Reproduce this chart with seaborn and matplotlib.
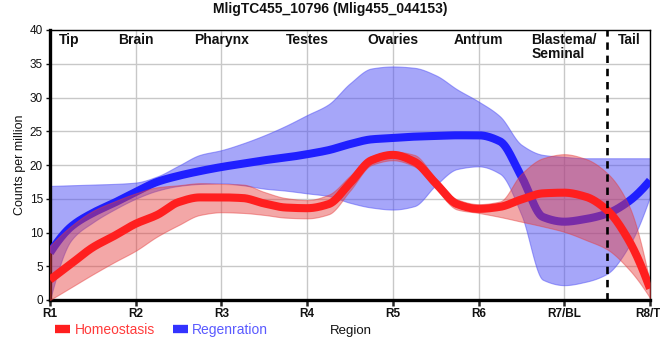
import numpy as np
import pandas as pd
import matplotlib
matplotlib.use("Agg")
import matplotlib.pyplot as plt
from matplotlib.lines import Line2D
import seaborn as sns

# Régions le long du corps
regions = ['R1', 'R2', 'R3', 'R4', 'R5', 'R6', 'R7/BL', 'R8/TI']
organes = ['Tip', 'Brain', 'Pharynx', 'Testes', 'Ovaries', 'Antrum', 'Blastema/\nSeminal', 'Tail']
organes_pos = [0.22, 1, 2, 3, 4, 5, 6, 6.76]

# positions lues tous les quarts de région
pos = np.arange(29) * 0.25

homeo = [3.0, 5.4, 7.8, 9.5, 11.3, 12.6, 14.5, 15.2, 15.2, 15.1, 14.3, 13.7, 13.6, 14.2, 17.3,
         20.7, 21.5, 20.5, 17.3, 14.2, 13.5, 13.8, 14.9, 15.8, 15.9, 15.3, 13.3, 8.9, 1.7]
homeo_haut = [8.0, 11.0, 13.2, 14.6, 15.8, 16.7, 17.0, 17.3, 17.2, 17.1, 16.0, 15.1, 14.8, 15.6, 18.4,
              21.3, 22.0, 21.5, 18.0, 14.9, 14.2, 14.6, 18.7, 21.0, 21.6, 20.9, 18.8, 14.1, 2.5]
homeo_bas = [0.0, 1.9, 3.8, 5.6, 7.3, 9.4, 11.1, 12.6, 13.0, 12.9, 12.6, 12.2, 12.1, 12.7, 16.2,
             20.0, 20.7, 19.8, 16.5, 13.4, 12.9, 12.3, 11.6, 10.9, 10.1, 8.9, 7.5, 4.6, 0.3]

regen = [7.0, 10.9, 12.9, 14.4, 16.0, 17.5, 18.4, 19.1, 19.7, 20.2, 20.7, 21.1, 21.6, 22.2, 23.1,
         23.8, 24.0, 24.2, 24.3, 24.4, 24.4, 23.5, 18.3, 12.3, 11.6, 12.0, 12.8, 14.6, 17.7]
regen_haut = [16.9, 17.0, 17.1, 17.2, 17.4, 18.3, 19.9, 21.5, 22.2, 23.2, 24.4, 25.8, 27.4, 29.0, 32.1,
              34.3, 34.6, 34.4, 33.3, 31.2, 29.4, 27.2, 23.0, 21.5, 21.2, 21.0, 21.0, 21.0, 21.0]
regen_bas = [0.0, 8.9, 11.5, 13.4, 15.0, 16.2, 16.9, 17.2, 17.3, 17.0, 16.5, 16.2, 15.8, 15.4, 14.4,
             13.7, 13.4, 13.9, 17.0, 19.4, 19.8, 18.7, 12.6, 3.0, 2.2, 2.7, 3.9, 7.9, 15.3]


def _bord(h0, h1, d0, d1):
    m = ((2 * h0 + h1) * d0 - h0 * d1) / (h0 + h1)
    if np.sign(m) != np.sign(d0):
        return 0.0
    if np.sign(d0) != np.sign(d1) and abs(m) > abs(3 * d0):
        return 3 * d0
    return m


def lisse(x, y, xs):
    # interpolation monotone (type PCHIP) pour le tracé lissé
    x = np.asarray(x, float)
    y = np.asarray(y, float)
    h = np.diff(x)
    d = np.diff(y) / h
    m = np.zeros_like(y)
    for k in range(1, len(x) - 1):
        if d[k - 1] * d[k] > 0:
            w1 = 2 * h[k] + h[k - 1]
            w2 = h[k] + 2 * h[k - 1]
            m[k] = (w1 + w2) / (w1 / d[k - 1] + w2 / d[k])
    m[0] = _bord(h[0], h[1], d[0], d[1])
    m[-1] = _bord(h[-1], h[-2], d[-1], d[-2])
    i = np.clip(np.searchsorted(x, xs) - 1, 0, len(x) - 2)
    t = (xs - x[i]) / h[i]
    return ((2 * t**3 - 3 * t**2 + 1) * y[i] + (t**3 - 2 * t**2 + t) * h[i] * m[i]
            + (-2 * t**3 + 3 * t**2) * y[i + 1] + (t**3 - t**2) * h[i] * m[i + 1])


xs = np.linspace(0, 7, 701)
df = pd.concat([
    pd.DataFrame({'x': xs, 'cpm': lisse(pos, regen, xs), 'condition': 'Regenration'}),
    pd.DataFrame({'x': xs, 'cpm': lisse(pos, homeo, xs), 'condition': 'Homeostasis'}),
])

sns.set_theme(style='whitegrid')
plt.rcParams['font.family'] = ['Liberation Sans', 'DejaVu Sans']

fig = plt.figure(figsize=(6.6, 3.6), dpi=100)
ax = fig.add_axes([50 / 660, 60 / 360, 600 / 660, 270 / 360])

rouge, bleu = '#ff1f1f', '#1f1fff'

ax.fill_between(xs, lisse(pos, regen_bas, xs), lisse(pos, regen_haut, xs),
                color='#4f4ff5', alpha=0.5, lw=0.8, zorder=2)
sns.lineplot(data=df[df.condition == 'Regenration'], x='x', y='cpm', color=bleu,
             linewidth=5.8, ax=ax, zorder=3, legend=False, solid_capstyle='butt')
ax.fill_between(xs, lisse(pos, homeo_bas, xs), lisse(pos, homeo_haut, xs),
                color='#e63c3c', alpha=0.45, lw=0.8, zorder=4)
sns.lineplot(data=df[df.condition == 'Homeostasis'], x='x', y='cpm', color=rouge,
             linewidth=5.8, ax=ax, zorder=5, legend=False, solid_capstyle='butt')

ax.axvline(6.5, color='black', lw=1.9, ls=(0, (2.8, 2.2)), zorder=6, clip_on=False)

ax.set_xlim(0, 7)
ax.set_ylim(0, 40)
ax.set_xticks(range(8))
ax.set_xticklabels(regions, fontsize=8.5, fontweight='bold', color='#111111')
ax.set_yticks(range(0, 41, 5))
ax.tick_params(axis='y', labelsize=8.5, colors='#111111', length=3, width=1, left=True, pad=2)
ax.tick_params(axis='x', length=4, width=1.8, bottom=True, pad=2)
ax.set_xlabel('')
ax.set_ylabel('')
ax.grid(True, color='#c8c8c8', lw=1)
ax.set_facecolor('white')

for cote, ep in [('left', 2.4), ('bottom', 2.4), ('top', 1.0), ('right', 1.0)]:
    ax.spines[cote].set_visible(True)
    ax.spines[cote].set_color('black')
    ax.spines[cote].set_linewidth(ep)

for nom, px in zip(organes, organes_pos):
    ax.text(px, 0.99, nom, transform=ax.get_xaxis_transform(), ha='center', va='top',
            multialignment='left', fontsize=10, fontweight='bold', color='#111111',
            linespacing=1.0, zorder=7)

fig.text(0.5, 1 - 9 / 360, 'MligTC455_10796 (Mlig455_044153)', ha='center', va='center',
         fontsize=10, fontweight='bold', color='#111111')
fig.text(20 / 660, 1 - 165 / 360, 'Counts per million', rotation=90, ha='center', va='center',
         fontsize=9, color='#111111')
fig.text(351 / 660, 1 - 331 / 360, 'Region', ha='center', va='center', fontsize=9.5,
         color='#111111')

poignees = [Line2D([0], [0], color=rouge, lw=6, solid_capstyle='butt'),
            Line2D([0], [0], color='#3333ff', lw=6, solid_capstyle='butt')]
leg = ax.legend(poignees, ['Homeostasis', 'Regenration'], loc='center left',
                bbox_to_anchor=(55 / 660, 1 - 330 / 360), bbox_transform=fig.transFigure,
                ncol=2, frameon=False, fontsize=10, handlelength=1.1, handletextpad=0.3,
                columnspacing=1.3, borderaxespad=0, borderpad=0)
for txt, c in zip(leg.get_texts(), ['#ff3b3b', '#5a5aff']):
    txt.set_color(c)

fig.savefig('out.png', dpi=100)
